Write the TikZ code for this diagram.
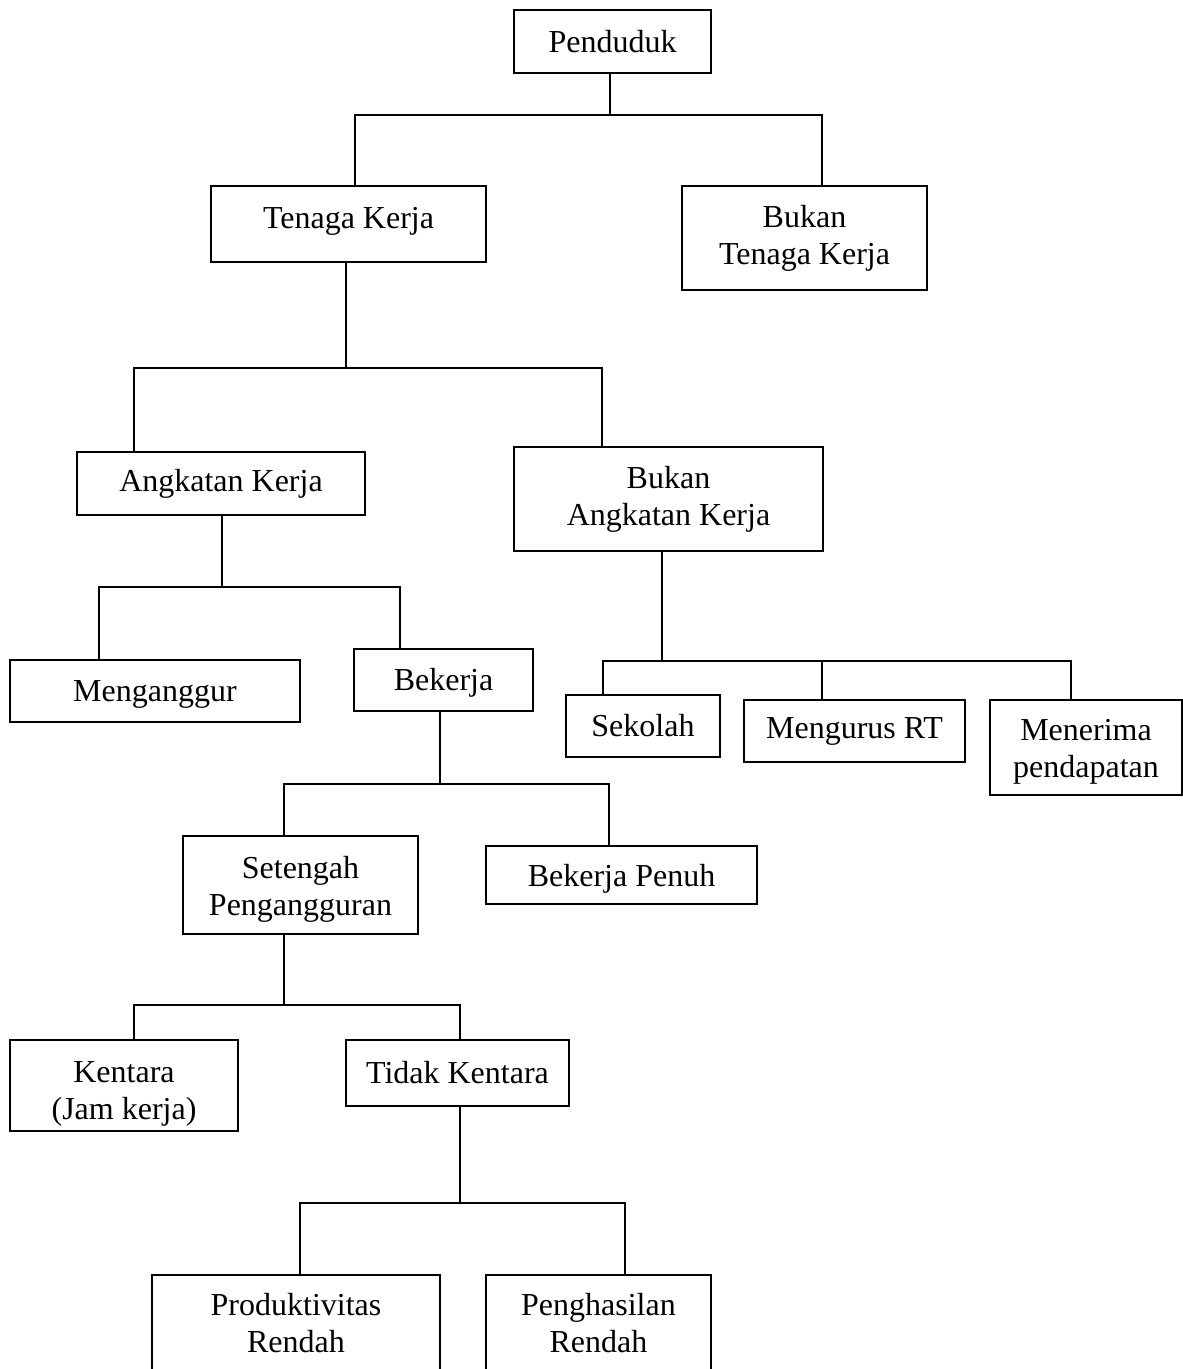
\documentclass[tikz,border=0pt]{standalone}
\usepackage{fontspec}
\setmainfont{Liberation Serif}
\usepackage{tikz}

\tikzset{
  kotak/.style={draw, line width=0.9pt, align=center, inner sep=0pt,
    font=\fontsize{12pt}{13.9pt}\selectfont},
  teks/.style 2 args={text height=#1, text depth=#2},
  garis/.style={line width=0.6pt}
}

\begin{document}
\begin{tikzpicture}[x=0.375pt, y=-0.375pt]
  \useasboundingbox (0,0) rectangle (1183,1369);
  \clip (0,0) rectangle (1183,1369);
  % Level 1
  \node[kotak, minimum width=73.9pt, minimum height=23.6pt] (pend) at (612.5,41.5) {Penduduk};
  % Level 2
  \node[kotak, teks={8.2pt}{4.8pt}, minimum width=103.1pt, minimum height=28.5pt] (tk) at (348.5,224) {Tenaga Kerja};
  \node[kotak, minimum width=91.9pt, minimum height=39pt] (btk) at (804.5,238) {Bukan\\Tenaga Kerja};
  % Level 3
  \node[kotak, minimum width=108pt, minimum height=23.6pt] (ak) at (221,483.5) {Angkatan Kerja};
  \node[kotak, minimum width=115.9pt, minimum height=39pt] (bak) at (668.5,499) {Bukan\\Angkatan Kerja};
  % Level 4
  \node[kotak, teks={10.1pt}{2.6pt}, minimum width=108.8pt, minimum height=23.3pt] (meng) at (155,691) {Menganggur};
  \node[kotak, teks={10.4pt}{2.6pt}, minimum width=67.1pt, minimum height=23.3pt] (bek) at (443.5,680) {Bekerja};
  \node[kotak, minimum width=57.8pt, minimum height=23.3pt] (sek) at (643,726) {Sekolah};
  \node[kotak, minimum width=82.9pt, minimum height=23.3pt] (mrt) at (854.5,731) {Mengurus RT};
  \node[kotak, teks={24.8pt}{2.6pt}, minimum width=72pt, minimum height=35.6pt] (mp) at (1086,747.5) {Menerima\\pendapatan};
  % Level 5
  \node[kotak, teks={25.5pt}{2.6pt}, minimum width=88.1pt, minimum height=36.8pt] (set) at (300.5,885) {Setengah\\Pengangguran};
  \node[kotak, teks={11.2pt}{2.6pt}, minimum width=101.6pt, minimum height=21.8pt] (bp) at (621.5,875) {Bekerja Penuh};
  % Level 6
  \node[kotak, teks={27.8pt}{2.6pt}, minimum width=85.5pt, minimum height=34.1pt] (ken) at (124,1085.5) {Kentara\\(Jam kerja)};
  \node[kotak, minimum width=83.6pt, minimum height=24.8pt] (tkn) at (457.5,1073) {Tidak Kentara};
  % Level 7
  \node[kotak, minimum width=108pt, minimum height=36.4pt] (prod) at (296,1323.5) {Produktivitas\\Rendah};
  \node[kotak, minimum width=84.4pt, minimum height=36.4pt] (peng) at (598.5,1323.5) {Penghasilan\\Rendah};
  % Connectors
  \foreach \induk/\xi/\ty/\anak/\xa in {pend/610/115/tk/355, pend/610/115/btk/822,
      tk/346/368/ak/134, tk/346/368/bak/602,
      ak/222/587/meng/99, ak/222/587/bek/400,
      bak/662/661/sek/603, bak/662/661/mrt/822, bak/662/661/mp/1071,
      bek/440/784/set/284, bek/440/784/bp/609,
      set/284/1005/ken/134, set/284/1005/tkn/460,
      tkn/460/1203/prod/300, tkn/460/1203/peng/625}
    \draw[garis] (\induk.south -| \xi,0) |- (\xa,\ty) -- (\anak.north -| \xa,0);
\end{tikzpicture}
\end{document}
